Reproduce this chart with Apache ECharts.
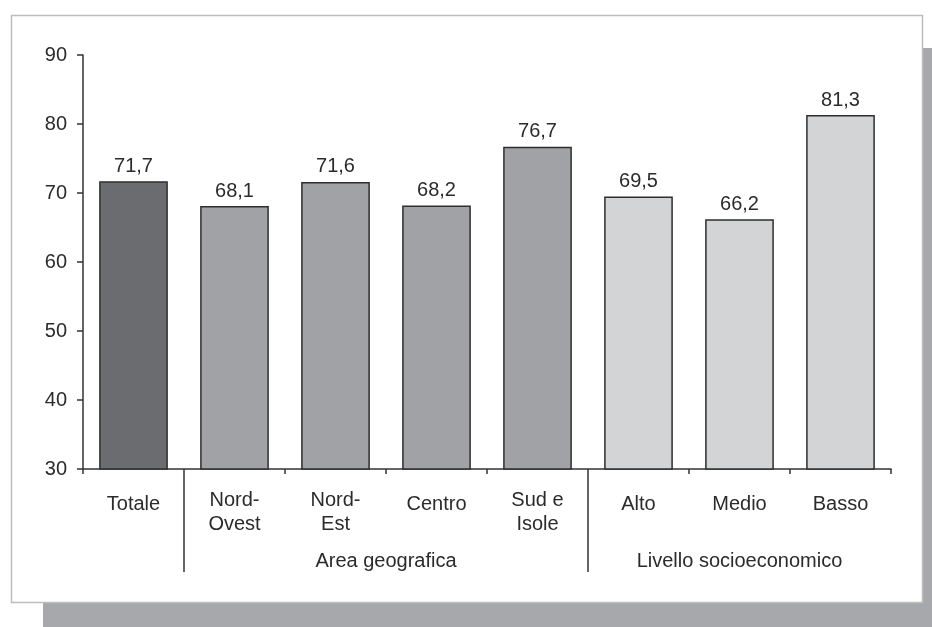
<!DOCTYPE html>
<html>
<head>
<meta charset="utf-8">
<title>Indicatore per area geografica e livello socioeconomico</title>
<script src="https://cdn.jsdelivr.net/npm/echarts@6/dist/echarts.min.js"></script>
<style>
  html, body { margin: 0; padding: 0; background: #ffffff; }
  #chart { width: 932px; height: 627px; }
</style>
</head>
<body>
<div id="chart"></div>
<script>
// Categories along the x axis (line breaks as printed under the bars)
const categories = ['Totale', 'Nord-\nOvest', 'Nord-\nEst', 'Centro', 'Sud e\nIsole', 'Alto', 'Medio', 'Basso'];
// Percentage values for each category
const values = [71.7, 68.1, 71.6, 68.2, 76.7, 69.5, 66.2, 81.3];
// Which group each category belongs to (0 = total, 1 = area, 2 = socioeconomic level)
const groupOf = [0, 1, 1, 1, 1, 2, 2, 2];
// Group names and how many categories each spans
const groupNames = ['', 'Area geografica', 'Livello socioeconomico'];
const groupSizes = [1, 4, 3];
// Y axis range and step
const yMin = 30, yMax = 90, yStep = 10;

const groupColors = ['#6b6c70', '#a1a2a6', '#d3d4d6'];
const textColor = '#2b2b2b';
const lineColor = '#333333';
const fontFamily = '"Liberation Sans", Arial, Helvetica, sans-serif';
const fontSize = 20;

// Group boundaries and centres in category units (0..categories.length)
const boundaries = [];
const centres = [];
let acc = 0;
groupSizes.forEach((n, i) => {
  if (i > 0) boundaries.push(acc);
  if (groupNames[i]) centres.push({ pos: acc + n / 2, name: groupNames[i] });
  acc += n;
});

const chart = echarts.init(document.getElementById('chart'), null, { renderer: 'canvas' });

const option = {
  animation: false,
  backgroundColor: '#ffffff',
  textStyle: { fontFamily: fontFamily },
  graphic: [
    { type: 'rect', z: -10, silent: true,
      shape: { x: 43, y: 48, width: 912, height: 600 },
      style: { fill: '#a7a8ab' } },
    { type: 'rect', z: -9, silent: true,
      shape: { x: 11.5, y: 15.5, width: 911, height: 587 },
      style: { fill: '#ffffff', stroke: '#bdbdbd', lineWidth: 1.5 } }
  ],
  grid: { left: 83, right: 41, top: 55, bottom: 158, containLabel: false },
  xAxis: [
    {
      type: 'category',
      data: categories,
      boundaryGap: true,
      axisLine: { show: true, lineStyle: { color: lineColor, width: 1.5 } },
      axisTick: { show: true, length: 5, lineStyle: { color: lineColor, width: 1.5 } },
      axisLabel: {
        interval: 0,
        margin: 19,
        color: textColor,
        fontSize: fontSize,
        fontFamily: fontFamily,
        lineHeight: 24,
        formatter: function (v) {
          return v.indexOf('\n') >= 0 ? v : '{s|' + v + '}';
        },
        rich: {
          s: { lineHeight: 32, fontSize: fontSize, fontFamily: fontFamily, color: textColor }
        }
      }
    },
    {
      // Group separators and group names below the categories
      type: 'value',
      position: 'bottom',
      min: 0,
      max: categories.length,
      axisLine: { show: false },
      splitLine: { show: false },
      axisTick: {
        show: true,
        customValues: boundaries,
        length: 103,
        lineStyle: { color: lineColor, width: 1.5 }
      },
      axisLabel: {
        show: true,
        customValues: centres.map(c => c.pos),
        margin: 82,
        color: textColor,
        fontSize: fontSize,
        fontFamily: fontFamily,
        formatter: function (v) {
          const c = centres.find(c => Math.abs(c.pos - v) < 1e-6);
          return c ? c.name : '';
        }
      }
    }
  ],
  yAxis: {
    type: 'value',
    min: yMin,
    max: yMax,
    interval: yStep,
    axisLine: { show: true, lineStyle: { color: lineColor, width: 1.5 } },
    axisTick: { show: true, length: 6, lineStyle: { color: lineColor, width: 1.5 } },
    splitLine: { show: false },
    axisLabel: { margin: 16, color: textColor, fontSize: fontSize, fontFamily: fontFamily }
  },
  series: [
    {
      type: 'bar',
      xAxisIndex: 0,
      barWidth: '68%',
      data: values.map((v, i) => ({
        value: v,
        itemStyle: { color: groupColors[groupOf[i]] }
      })),
      itemStyle: { borderColor: '#2e2e2e', borderWidth: 1.5 },
      label: {
        show: true,
        position: 'top',
        distance: 5,
        color: textColor,
        fontSize: fontSize,
        fontFamily: fontFamily,
        formatter: p => p.value.toFixed(1).replace('.', ',')
      }
    }
  ]
};

chart.setOption(option);
</script>
</body>
</html>
